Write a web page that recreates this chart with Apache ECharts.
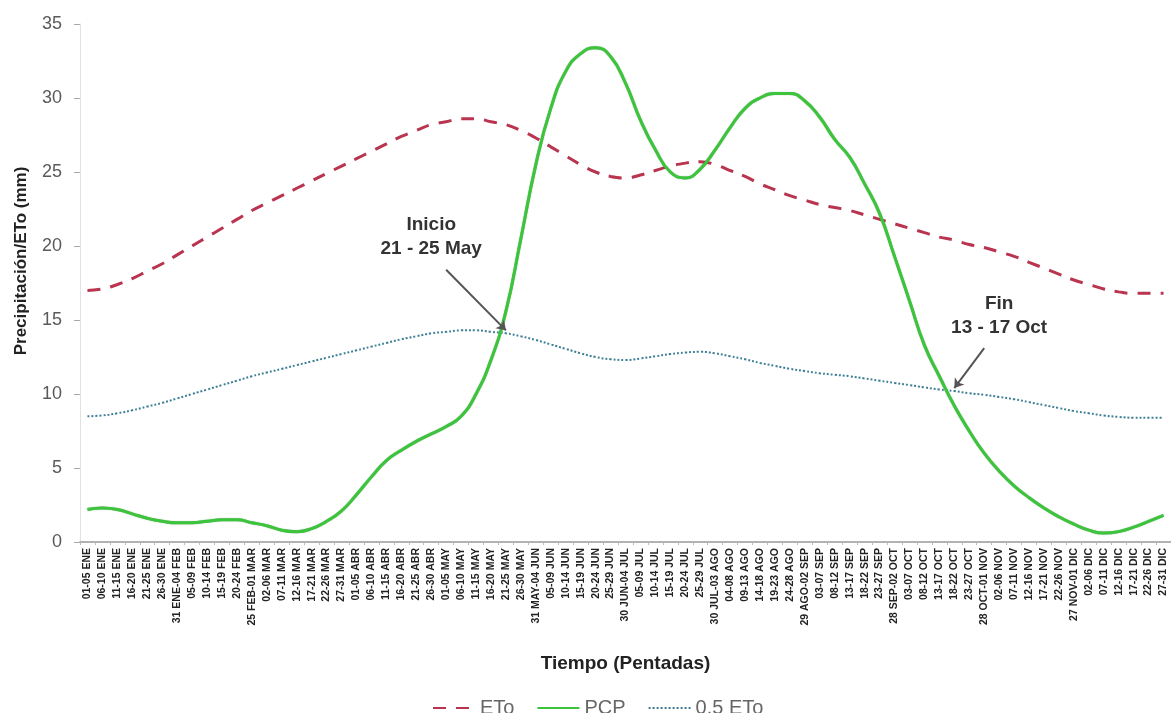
<!DOCTYPE html>
<html>
<head>
<meta charset="utf-8">
<script src="https://cdn.jsdelivr.net/npm/echarts@6/dist/echarts.min.js"></script>
<style>
html,body{margin:0;padding:0;background:#fff;}
#chart{width:1171px;height:713px;}
</style>
</head>
<body>
<div id="chart"></div>
<script>
const categories = [
'01-05 ENE','06-10 ENE','11-15 ENE','16-20 ENE','21-25 ENE','26-30 ENE','31 ENE-04 FEB',
'05-09 FEB','10-14 FEB','15-19 FEB','20-24 FEB','25 FEB-01 MAR',
'02-06 MAR','07-11 MAR','12-16 MAR','17-21 MAR','22-26 MAR','27-31 MAR',
'01-05 ABR','06-10 ABR','11-15 ABR','16-20 ABR','21-25 ABR','26-30 ABR',
'01-05 MAY','06-10 MAY','11-15 MAY','16-20 MAY','21-25 MAY','26-30 MAY','31 MAY-04 JUN',
'05-09 JUN','10-14 JUN','15-19 JUN','20-24 JUN','25-29 JUN','30 JUN-04 JUL',
'05-09 JUL','10-14 JUL','15-19 JUL','20-24 JUL','25-29 JUL','30 JUL-03 AGO',
'04-08 AGO','09-13 AGO','14-18 AGO','19-23 AGO','24-28 AGO','29 AGO-02 SEP',
'03-07 SEP','08-12 SEP','13-17 SEP','18-22 SEP','23-27 SEP','28 SEP-02 OCT',
'03-07 OCT','08-12 OCT','13-17 OCT','18-22 OCT','23-27 OCT','28 OCT-01 NOV',
'02-06 NOV','07-11 NOV','12-16 NOV','17-21 NOV','22-26 NOV','27 NOV-01 DIC',
'02-06 DIC','07-11 DIC','12-16 DIC','17-21 DIC','22-26 DIC','27-31 DIC'];

const eto = [
17.0,17.1,17.4,17.8,18.3,18.8,19.4,20.0,20.6,21.2,
21.8,22.4,22.9,23.4,23.9,24.4,24.9,25.4,25.9,26.4,
26.9,27.4,27.8,28.2,28.4,28.6,28.6,28.4,28.2,27.8,
27.3,26.7,26.1,25.5,25.0,24.7,24.6,24.8,25.1,25.4,
25.6,25.7,25.5,25.1,24.7,24.2,23.8,23.4,23.1,22.8,
22.6,22.4,22.1,21.8,21.5,21.2,20.9,20.6,20.4,20.1,
19.9,19.6,19.3,18.9,18.5,18.1,17.7,17.4,17.1,16.9,
16.8,16.8,16.8];

const pcp = [
2.2,2.3,2.2,1.9,1.6,1.4,1.3,1.3,1.4,1.5,
1.5,1.3,1.1,0.8,0.7,0.9,1.4,2.1,3.2,4.4,
5.5,6.2,6.8,7.3,7.8,8.5,10.0,12.3,15.6,20.5,
25.5,29.3,31.8,33.0,33.4,32.8,31.0,28.5,26.5,25.0,
24.6,25.2,26.5,28.0,29.3,30.0,30.3,30.3,29.8,28.7,
27.2,26.0,24.2,22.2,19.3,16.3,13.3,11.2,9.2,7.5,
6.0,4.8,3.8,3.0,2.3,1.7,1.2,0.8,0.6,0.7,
1.0,1.4,1.8];

const halfEto = [
8.5,8.55,8.7,8.9,9.15,9.4,9.7,10.0,10.3,10.6,
10.9,11.2,11.45,11.7,11.95,12.2,12.45,12.7,12.95,13.2,
13.45,13.7,13.9,14.1,14.2,14.3,14.3,14.2,14.1,13.9,
13.65,13.35,13.05,12.75,12.5,12.35,12.3,12.4,12.55,12.7,
12.8,12.85,12.75,12.55,12.35,12.1,11.9,11.7,11.55,11.4,
11.3,11.2,11.05,10.9,10.75,10.6,10.45,10.3,10.2,10.05,
9.95,9.8,9.65,9.45,9.25,9.05,8.85,8.7,8.55,8.45,
8.4,8.4,8.4];

const yTicks = [0, 35, 5];

const chart = echarts.init(document.getElementById('chart'), null, {renderer: 'canvas'});

const option = {
  animation: false,
  backgroundColor: '#ffffff',
  grid: {left: 80, right: -4, top: 24, bottom: 171, containLabel: false},
  legend: {
    left: 427, top: 693,
    itemWidth: 42, itemHeight: 14, itemGap: 22,
    itemStyle: {opacity: 0},
    textStyle: {fontFamily: 'Liberation Sans', fontSize: 20, color: '#666'},
    data: ['ETo', 'PCP', '0.5 ETo']
  },
  xAxis: {
    type: 'category',
    data: categories,
    boundaryGap: true,
    name: 'Tiempo (Pentadas)',
    nameLocation: 'middle',
    nameGap: 112,
    nameTextStyle: {fontFamily: 'Liberation Sans', fontSize: 19, fontWeight: 'bold', color: '#222'},
    axisLine: {lineStyle: {color: '#999', width: 1.5}},
    axisTick: {show: true, alignWithLabel: false, length: 3, lineStyle: {color: '#bbb'}},
    axisLabel: {
      interval: 0, rotate: 90, margin: 6,
      fontFamily: 'Liberation Sans', fontSize: 10.5, fontWeight: 'bold', color: '#222'
    },
    splitLine: {show: false}
  },
  yAxis: {
    type: 'value',
    min: yTicks[0], max: yTicks[1], interval: yTicks[2],
    name: 'Precipitación/ETo (mm)',
    nameLocation: 'middle',
    nameGap: 50,
    nameRotate: 90,
    nameTextStyle: {fontFamily: 'Liberation Sans', fontSize: 17, fontWeight: 'bold', color: '#222', padding: [0, 0, 0, 44]},
    axisLine: {show: true, lineStyle: {color: '#e2e2e2', width: 1}},
    axisTick: {show: true, inside: false, length: 6, lineStyle: {color: '#aaa'}},
    axisLabel: {margin: 18, fontFamily: 'Liberation Sans', fontSize: 18, color: '#5a5a5a'},
    splitLine: {show: false}
  },
  series: [
    {
      name: 'ETo', type: 'line', data: eto, smooth: true, symbol: 'none',
      lineStyle: {color: '#b8344f', width: 3, type: [13, 10]},
      itemStyle: {color: '#b8344f'}, z: 2
    },
    {
      name: 'PCP', type: 'line', data: pcp, smooth: true, symbol: 'none',
      lineStyle: {color: '#3cc43c', width: 3, shadowColor: 'rgba(20,110,20,0.6)', shadowBlur: 1},
      itemStyle: {color: '#3cc43c'}, z: 3
    },
    {
      name: '0.5 ETo', type: 'line', data: halfEto, smooth: true, symbol: 'none',
      lineStyle: {color: '#3f7f95', width: 2, type: [2, 2]},
      itemStyle: {color: '#3f7f95'}, z: 2,
      markLine: {
        silent: true,
        symbol: ['none', 'arrow'],
        symbolSize: 9,
        label: {show: false},
        lineStyle: {color: '#555', width: 2, type: 'solid'},
        data: [
          [{coord: [24.0, 18.4]}, {coord: [27.7, 14.3]}],
          [{coord: [60.0, 13.1]}, {coord: [57.7, 10.4]}]
        ]
      },
      markPoint: {
        silent: true,
        symbol: 'circle', symbolSize: 0,
        label: {
          show: true, position: 'inside',
          fontFamily: 'Liberation Sans', fontSize: 19, fontWeight: 'bold', color: '#333',
          lineHeight: 24, align: 'center'
        },
        data: [
          {coord: [22.5, 20.6], value: 'Inicio\n21 - 25 May', label: {formatter: 'Inicio\n21 - 25 May'}},
          {coord: [60.9, 15.3], value: 'Fin\n13 - 17 Oct', label: {formatter: 'Fin\n13 - 17 Oct'}}
        ]
      }
    }
  ]
};
chart.setOption(option);
</script>
</body>
</html>
